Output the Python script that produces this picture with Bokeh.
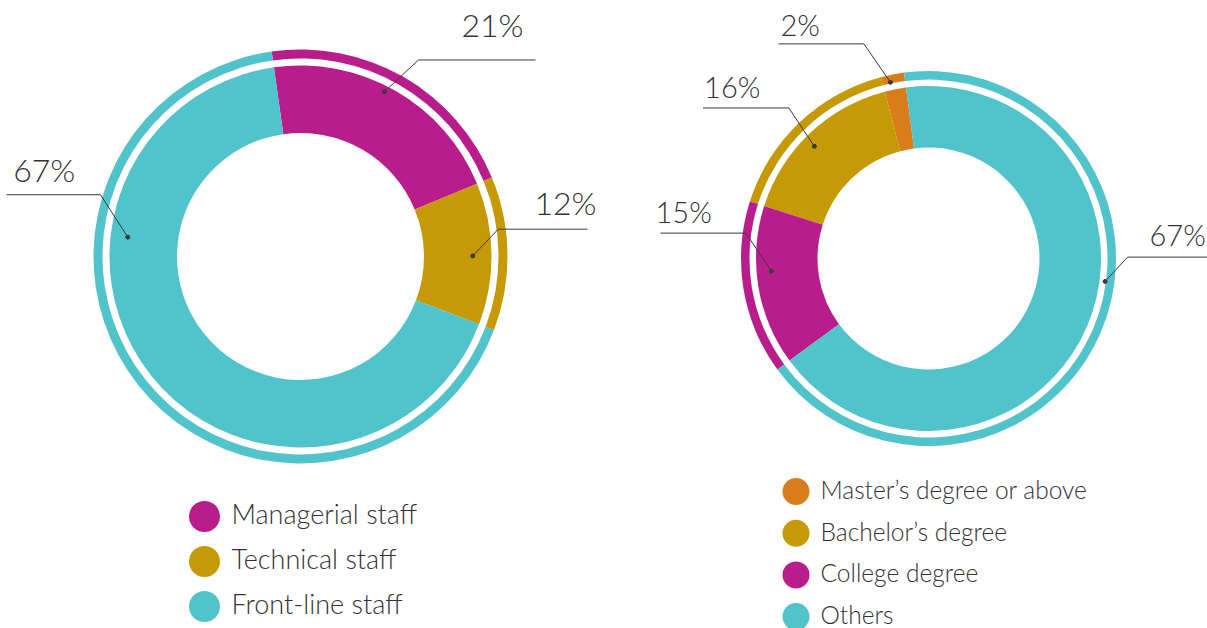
import math
from bokeh.plotting import figure
from bokeh.models import Range1d
from bokeh.core.properties import value
from bokeh.embed import file_html
from bokeh.resources import INLINE

# ---------------- data ----------------
staff_categories = ["Managerial staff", "Technical staff", "Front-line staff"]
staff_values = [21, 12, 67]
staff_colors = ["#B91D8B", "#C69A07", "#51C3CB"]

edu_categories = ["Master\u2019s degree or above", "Bachelor\u2019s degree", "College degree", "Others"]
edu_values = [2, 16, 15, 67]
edu_colors = ["#D97C1C", "#C69A07", "#B91D8B", "#51C3CB"]

# ---------------- layout ----------------
W, H = 1207, 628
FONT = value("Lato Light")
TXT = "#333333"
LINE = "#3a3a3a"

p = figure(width=W, height=H, output_backend="svg", toolbar_location=None,
           x_range=Range1d(0, W), y_range=Range1d(-H, 0),
           x_axis_location=None, y_axis_location=None, min_border=0)
p.grid.visible = False
p.outline_line_color = None
p.background_fill_color = "white"


def slices(values, start_theta, clockwise):
    """Return (start_angle, end_angle) in radians (math convention) for each value."""
    total = float(sum(values))
    out = []
    cum = 0.0
    for v in values:
        a = cum / total * 360.0
        b = (cum + v) / total * 360.0
        cum += v
        if clockwise:
            t1, t2 = start_theta + a, start_theta + b
        else:
            t1, t2 = start_theta - b, start_theta - a
        out.append((math.radians(90 - t2), math.radians(90 - t1)))
    return out


def donut(cx, cy, r_in, r_out, ring_in, ring_out, values, colors, start_theta, clockwise):
    angs = slices(values, start_theta, clockwise)
    for (s, e), c in zip(angs, colors):
        p.annular_wedge(x=cx, y=-cy, inner_radius=r_in, outer_radius=r_out,
                        start_angle=s, end_angle=e, color=c, line_color=None)
        p.annular_wedge(x=cx, y=-cy, inner_radius=ring_in, outer_radius=ring_out,
                        start_angle=s, end_angle=e, color=c, line_color=None)


def leader(cx, cy, theta, r, dx, dy, end_x, text, tx, tdy, size):
    x0 = cx + r * math.sin(math.radians(theta))
    y0 = cy - r * math.cos(math.radians(theta))
    x1, y1 = x0 + dx, y0 + dy
    p.line([x0, x1, end_x], [-y0, -y1, -y1], line_color=LINE, line_width=1)
    p.scatter([x0], [-y0], size=4, color=LINE)
    shift = 0.44 * size
    p.text([tx], [-(y1 - tdy - shift)], text=[text], text_font=FONT,
           text_font_size=f"{size}px", text_color=TXT,
           text_baseline="alphabetic", text_align="left")


# left donut
LCX, LCY = 300, 256
donut(LCX, LCY, 123.5, 191, 198, 207, staff_values, staff_colors, -8, True)
left_layout = [  # theta, r, dx, dy, end_x, text_x, text_dy
    (27.0, 185, 34, -31.7, 535, 461, 21),
    (89.8, 172.3, 25.4, -26.7, 587, 534, 13),
    (276.4, 173.8, -27.3, -42.4, 6, 12.7, 11),
]
for v, (th, r, dx, dy, ex, tx, tdy) in zip(staff_values, left_layout):
    leader(LCX, LCY, th, r, dx, dy, ex, f"{v}%", tx, tdy, 32)

# right donut
RCX, RCY = 928, 258
donut(RCX, RCY, 111, 172.5, 179, 187.5, edu_values, edu_colors, -7.5, False)
right_layout = [
    (347.8, 180.3, -26.5, -38.4, 778, 780, 6.6),
    (314.5, 160, -25.5, -38.4, 702.5, 703.6, 9),
    (265.4, 157.6, -25.5, -38, 660, 655, 8.7),
    (97.4, 178.1, 22.4, -24.3, 1207, 1149, 9.7),
]
for v, (th, r, dx, dy, ex, tx, tdy) in zip(edu_values, right_layout):
    leader(RCX, RCY, th, r, dx, dy, ex, f"{v}%", tx, tdy, 29)

# legends
for i, (lab, c) in enumerate(zip(staff_categories, staff_colors)):
    y = 516 + i * 45
    p.circle(x=[204], y=[-y], radius=15.5, color=c, line_color=None)
    p.text([231], [-(y - 3)], text=[lab], text_font=FONT, text_font_size="27px",
           text_color=TXT, text_baseline="middle", text_align="left")

for i, (lab, c) in enumerate(zip(edu_categories, edu_colors)):
    y = 491 + i * 41.7
    p.circle(x=[795.5], y=[-y], radius=13.5, color=c, line_color=None)
    p.text([820], [-(y - 2)], text=[lab], text_font=FONT, text_font_size="24.5px",
           text_color=TXT, text_baseline="middle", text_align="left")

open("out.html", "w").write(file_html(p, INLINE))
